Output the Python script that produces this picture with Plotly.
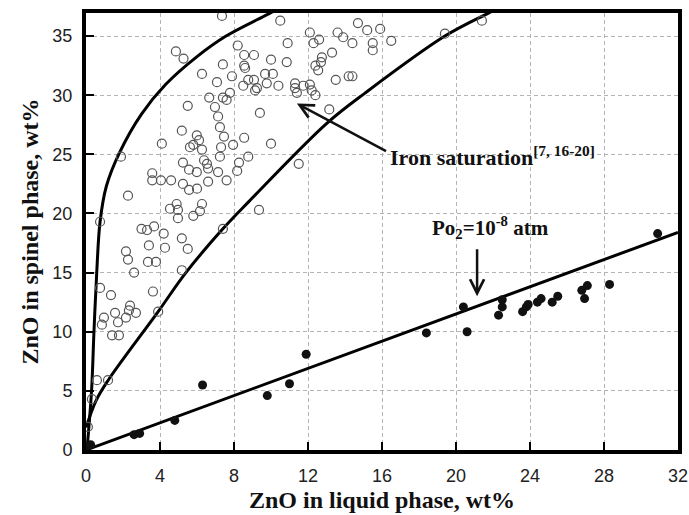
import plotly.graph_objects as go

# Hollow circles: iron saturation data (ZnO liquid wt%, ZnO spinel wt%)
fe_x = [7.35, 10.5, 14.7, 21.4, 15.2, 15.9, 13.6, 12.1, 13.9, 14.4, 12.3, 12.6, 10.9, 8.2,
        15.5, 15.5, 16.5, 19.4, 4.86, 5.27, 13.3, 8.55, 9.08, 8.55, 8.6, 10.0, 10.85, 7.4,
        12.75, 12.4, 12.55, 12.7, 6.27, 7.89, 9.68, 10.1, 13.5, 14.2, 14.4, 7.08, 8.5, 8.77,
        9.08, 9.24, 9.14, 9.77, 10.4, 11.3, 11.3, 11.4, 11.75, 12.1, 12.2, 12.4, 6.66, 7.4,
        7.78, 7.6, 5.5, 6.97, 7.14, 9.4, 13.15, 7.24, 5.18, 5.99, 6.11, 7.46, 8.55, 5.8,
        5.62, 7.95, 10.0, 6.27, 7.3, 4.1, 1.89, 6.38, 7.24, 8.77, 5.24, 6.54, 8.27, 11.5,
        6.6, 5.57, 5.99, 7.14, 8.17, 3.58, 3.58, 4.05, 4.6, 6.6, 7.6, 5.24, 5.57, 6.0,
        2.27, 4.9, 4.54, 6.27, 4.97, 6.16, 5.8, 4.97, 9.35, 0.76, 3.0, 3.3, 3.68, 4.2,
        5.18, 7.4, 3.4, 4.27, 5.5, 2.16, 2.27, 3.35, 3.78, 2.6, 5.18, 0.76, 1.35, 3.62,
        2.38, 2.32, 1.57, 2.7, 3.9, 0.97, 2.16, 1.73, 0.86, 1.41, 1.78, 0.59, 1.19, 0.32,
        0.1]
fe_y = [36.7, 36.3, 36.1, 36.3, 35.5, 35.6, 35.3, 35.3, 34.9, 34.4, 34.4, 34.7, 34.4, 34.2,
        34.4, 33.8, 34.6, 35.2, 33.7, 33.1, 33.6, 33.4, 33.4, 32.5, 32.3, 33.0, 32.8, 32.6,
        33.2, 32.5, 32.1, 32.8, 31.8, 31.6, 31.8, 31.8, 31.3, 31.6, 31.6, 31.1, 30.8, 31.3,
        31.3, 30.6, 30.4, 31.0, 30.8, 31.0, 30.6, 30.2, 30.8, 30.9, 30.4, 30.0, 29.8, 29.8,
        30.2, 29.6, 29.1, 29.0, 28.2, 28.5, 28.8, 27.3, 27.0, 26.6, 26.2, 26.5, 26.4, 25.8,
        25.6, 25.8, 25.9, 25.4, 25.6, 25.9, 24.8, 24.5, 24.8, 24.8, 24.3, 24.2, 24.3, 24.2,
        23.8, 23.7, 23.5, 23.5, 23.6, 23.4, 22.8, 22.8, 22.8, 22.7, 22.8, 22.5, 22.0, 22.1,
        21.5, 20.8, 20.4, 20.8, 20.3, 20.2, 19.8, 19.6, 20.3, 19.3, 18.7, 18.6, 18.9, 18.3,
        17.9, 18.7, 17.3, 17.1, 17.0, 16.8, 16.1, 15.9, 15.9, 15.0, 15.2, 13.7, 13.1, 13.4,
        12.2, 11.8, 11.6, 11.6, 11.7, 11.2, 11.2, 10.8, 10.6, 9.7, 9.7, 5.9, 5.9, 4.3,
        1.95]

# Filled circles: Po2 = 1e-8 atm data
po_x = [0.1, 0.25, 2.6, 2.9, 4.8, 6.3, 9.8, 11.0, 11.9, 18.4, 20.6, 20.4, 22.5, 22.5,
        22.3, 23.6, 23.8, 23.9, 24.4, 24.6, 25.2, 25.5, 26.8, 27.1, 26.95, 28.3, 30.9]
po_y = [0.3, 0.45, 1.3, 1.4, 2.5, 5.5, 4.6, 5.6, 8.1, 9.9, 10.0, 12.1, 12.7, 12.1,
        11.4, 11.7, 12.1, 12.3, 12.5, 12.8, 12.5, 13.0, 13.5, 13.9, 12.8, 14.0, 18.3]

# Iron-saturation boundary curves
upper_x = [0.05, 0.3, 0.43, 0.58, 0.76, 1.1, 1.8, 3.0, 4.3, 5.95, 7.57, 9.9, 10.6]
upper_y = [0.0, 5.0, 10.0, 15.0, 19.3, 22.3, 25.1, 28.4, 30.9, 33.2, 35.0, 36.9, 37.5]
lower_x = [0.0, 0.55, 1.2, 3.9, 5.4, 7.4, 8.8, 13.0, 15.1, 19.4, 21.7, 22.2]
lower_y = [1.9, 4.2, 5.9, 11.7, 15.0, 18.7, 21.0, 27.6, 30.2, 35.0, 36.9, 37.3]

# Po2 = 1e-8 atm line
line_x = [0, 32]
line_y = [0, 18.4]

x_ticks = [0, 4, 8, 12, 16, 20, 24, 28, 32]
y_ticks = [0, 5, 10, 15, 20, 25, 30, 35]

serif = "Liberation Serif"
sans = "Liberation Sans"

fig = go.Figure()
fig.add_trace(go.Scatter(x=upper_x, y=upper_y, mode="lines",
                         line=dict(color="black", width=3, shape="spline", smoothing=1.0),
                         showlegend=False, hoverinfo="skip"))
fig.add_trace(go.Scatter(x=lower_x, y=lower_y, mode="lines",
                         line=dict(color="black", width=3, shape="spline", smoothing=1.0),
                         showlegend=False, hoverinfo="skip"))
fig.add_trace(go.Scatter(x=line_x, y=line_y, mode="lines",
                         line=dict(color="black", width=3),
                         showlegend=False, hoverinfo="skip"))
fig.add_trace(go.Scatter(x=fe_x, y=fe_y, mode="markers",
                         marker=dict(symbol="circle-open", size=9, color="#555555",
                                     line=dict(width=1.2, color="#555555")),
                         showlegend=False))
fig.add_trace(go.Scatter(x=po_x, y=po_y, mode="markers",
                         marker=dict(symbol="circle", size=9, color="#111111"),
                         showlegend=False))

fig.add_annotation(x=16.3, y=24.9, xref="x", yref="y", showarrow=False,
                   text="<b>Iron saturation<sup>[7, 16-20]</sup></b>", xanchor="left", yanchor="middle",
                   font=dict(family=serif, size=22, color="#111111"))
fig.add_annotation(x=11.4, y=29.3, ax=16.3, ay=25.2, xref="x", yref="y", axref="x", ayref="y",
                   text="", showarrow=True, arrowhead=5, arrowsize=1.1, arrowwidth=2.5,
                   arrowcolor="#111111", standoff=0, startstandoff=0)
fig.add_annotation(x=21.84, y=18.8, xref="x", yref="y", showarrow=False,
                   text="<b>Po<sub>2</sub>=10<sup>-8</sup> atm</b>", xanchor="center", yanchor="middle",
                   font=dict(family=serif, size=21, color="#111111"))
fig.add_annotation(x=21.14, y=13.0, ax=21.14, ay=17.1, xref="x", yref="y", axref="x", ayref="y",
                   text="", showarrow=True, arrowhead=5, arrowsize=1.1, arrowwidth=2.5,
                   arrowcolor="#111111", standoff=0, startstandoff=0)

axis_common = dict(showline=True, linewidth=4, linecolor="black", mirror=True,
                   showgrid=True, gridcolor="#b4b4b4", gridwidth=1, griddash="4px,3px",
                   zeroline=False, ticks="inside", ticklen=8, tickwidth=2, tickcolor="black",
                   tickfont=dict(family=sans, size=18, color="#222222"), automargin=False)

fig.update_xaxes(range=[0, 32], tickvals=x_ticks, ticktext=[str(v) for v in x_ticks],
                 title=dict(text="<b>ZnO in liquid phase, wt%</b>",
                            font=dict(family=serif, size=24, color="#111111"), standoff=8),
                 ticklabelstandoff=6, **axis_common)
fig.update_yaxes(range=[0, 36.95], tickvals=y_ticks, ticktext=[str(v) for v in y_ticks],
                 title=dict(text="<b>ZnO in spinel phase, wt%</b>",
                            font=dict(family=serif, size=24, color="#111111"), standoff=8),
                 ticklabelstandoff=6, **axis_common)

fig.update_layout(width=689, height=515, margin=dict(l=86, r=11, t=13, b=65, autoexpand=False),
                  plot_bgcolor="white", paper_bgcolor="white")

fig.write_html("out.html")
